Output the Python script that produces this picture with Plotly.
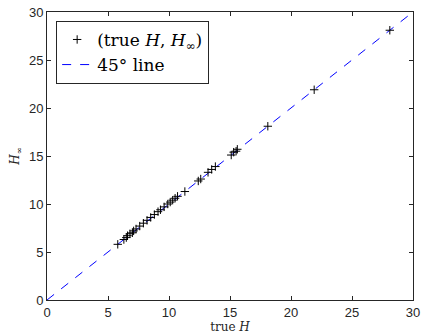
import plotly.graph_objects as go

true_H = [5.8, 6.3, 6.5, 6.6, 6.8, 7.0, 7.1, 7.3, 7.6, 7.9, 8.2, 8.5, 8.8, 9.1, 9.3, 9.6,
          9.9, 10.1, 10.3, 10.5, 10.7, 11.3, 12.4, 12.6, 13.2, 13.5, 13.8, 15.1, 15.3,
          15.5, 15.6, 18.1, 21.9, 28.1]
H_inf = [5.8, 6.3, 6.5, 6.7, 6.9, 7.0, 7.2, 7.4, 7.7, 8.0, 8.3, 8.6, 8.9, 9.2, 9.4, 9.7,
         10.0, 10.2, 10.4, 10.6, 10.8, 11.3, 12.4, 12.6, 13.3, 13.6, 13.9, 15.1, 15.4,
         15.5, 15.7, 18.1, 21.9, 28.1]
line_x = [0, 30]
line_y = [0, 30]
tick_vals = [0, 5, 10, 15, 20, 25, 30]

fig = go.Figure()
fig.add_trace(go.Scatter(
    x=line_x, y=line_y, mode="lines", name="45° line",
    line=dict(color="#0000ff", dash="dash", width=1), showlegend=True))
fig.add_trace(go.Scatter(
    x=true_H, y=H_inf, mode="markers", name="(true <i>H</i>, <i>H</i><sub>∞</sub>)",
    marker=dict(symbol="cross-thin", size=6, line=dict(color="black", width=1), color="black")))

axis_common = dict(range=[0, 30], tickvals=tick_vals, ticks="inside", ticklen=4,
                   showline=True, linecolor="#262626", linewidth=1, mirror="ticks",
                   showgrid=False, zeroline=False, tickcolor="#262626", automargin=False,
                   ticklabeloverflow="allow",
                   tickfont=dict(family="Liberation Sans, Arial", size=13, color="#262626"))

fig.update_layout(
    width=421, height=335,
    margin=dict(l=47, r=8, t=12, b=35),
    plot_bgcolor="white", paper_bgcolor="white",
    xaxis=dict(**axis_common, title=dict(text="true <i>H</i>", standoff=0,
               font=dict(family="DejaVu Serif", size=12, color="#262626"))),
    yaxis=dict(**axis_common, title=dict(text="<i>H</i><sub>∞</sub>", standoff=6,
               font=dict(family="DejaVu Serif", size=12, color="#262626"))),
    legend=dict(x=0.025, y=0.969, xanchor="left", yanchor="top", traceorder="reversed",
                bgcolor="white", bordercolor="#262626", borderwidth=1,
                font=dict(family="DejaVu Serif", size=17, color="black"),
                itemwidth=30, tracegroupgap=0),
)

fig.write_html("out.html", config={"displayModeBar": False},
               post_script="document.body.style.margin='0';")
